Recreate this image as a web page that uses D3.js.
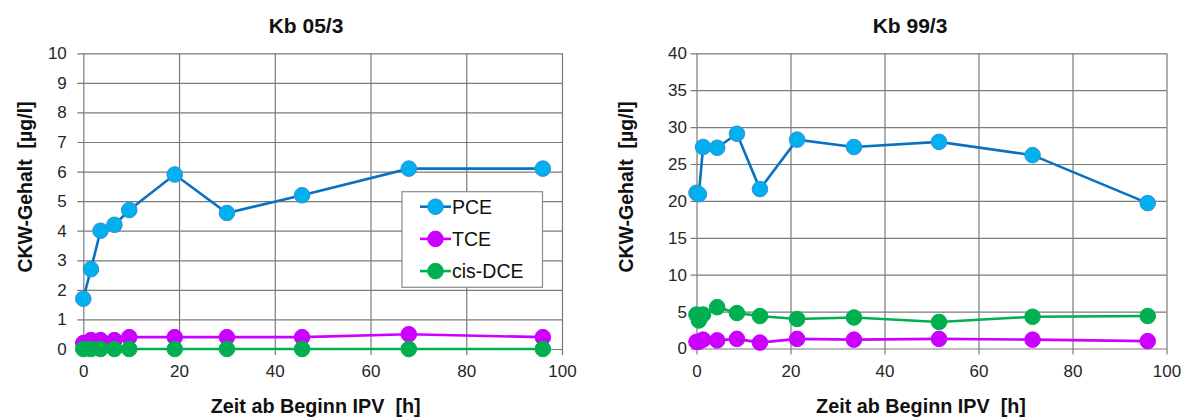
<!DOCTYPE html>
<html><head><meta charset="utf-8">
<script src="https://cdn.jsdelivr.net/npm/d3@7"></script>
<style>body{margin:0;background:#fff;} svg{display:block;font-family:"Liberation Sans",Arial,sans-serif;} svg text{white-space:pre;}</style>
</head><body><svg id="c" width="1190" height="417"></svg>
<script>
// ---- data ----
const seriesNames = ["PCE", "TCE", "cis-DCE"];
const leftTitle = "Kb 05/3";
const leftTime = [0, 1.6, 3.6, 6.5, 9.6, 19.1, 30, 45.7, 68, 96];
const leftPCE = [1.7, 2.7, 4.0, 4.2, 4.7, 5.9, 4.6, 5.2, 6.1, 6.1];
const leftTCE = [0.2, 0.3, 0.3, 0.3, 0.4, 0.4, 0.4, 0.4, 0.5, 0.4];
const leftDCE = [0, 0, 0, 0, 0, 0, 0, 0, 0, 0];
const leftYTicks = [0,1,2,3,4,5,6,7,8,9,10];

const rightTitle = "Kb 99/3";
const rightTime = [0, 0.5, 1.4, 4.4, 8.6, 13.5, 21.4, 33.5, 51.6, 71.5, 96];
const rightPCE = [21.1, 20.9, 27.3, 27.2, 29.1, 21.6, 28.3, 27.3, 28.0, 26.2, 19.7];
const rightTCE = [0.9, 0.9, 1.2, 1.1, 1.3, 0.8, 1.3, 1.2, 1.3, 1.2, 1.0];
const rightDCE = [4.6, 3.8, 4.6, 5.6, 4.8, 4.4, 4.0, 4.2, 3.6, 4.3, 4.4];
const rightYTicks = [0,5,10,15,20,25,30,35,40];

const xTicks = [0,20,40,60,80,100];
const yLabel = "CKW-Gehalt  [µg/l]";
const xLabel = "Zeit ab Beginn IPV  [h]";
const lineColors = ["#0a70c0", "#cc00ff", "#00b050"];
const fillColors = ["#00b0f0", "#cc00ff", "#00b050"];

const svg = d3.select("#c");

function panel(cfg) {
  const g = svg.append("g");
  const x = d3.scaleLinear().domain([0,100]).range([cfg.x0, cfg.x1]);
  const y = d3.scaleLinear().domain([0, cfg.ymax]).range([cfg.yb, cfg.yt]);
  const grid = "#7a7a7a";
  // horizontal grid + ticks
  g.append("g").attr("transform", `translate(${cfg.x0},0)`)
    .call(d3.axisLeft(y).tickValues(cfg.yTicks).tickSize(-(cfg.x1-cfg.x0)).tickSizeOuter(0))
    .call(a => a.select(".domain").remove())
    .call(a => a.selectAll("line").attr("stroke", grid).attr("stroke-width",1.2).attr("x1", -6))
    .call(a => a.selectAll("text").attr("font-size", 17).attr("fill", "#262626").attr("x", -cfg.ypad));
  // vertical grid + ticks
  g.append("g").attr("transform", `translate(0,${cfg.yb})`)
    .call(d3.axisBottom(x).tickValues(xTicks).tickSize(-(cfg.yb-cfg.yt)).tickSizeOuter(0))
    .call(a => a.select(".domain").remove())
    .call(a => a.selectAll("line").attr("stroke", grid).attr("stroke-width",1.2).attr("y1", 6))
    .call(a => a.selectAll("text").attr("font-size", 17).attr("fill", "#262626").attr("dy", null).attr("y", 28));
  // title
  g.append("text").attr("x", cfg.titleX).attr("y", 32.5).attr("text-anchor","middle")
    .attr("font-size", 21).attr("font-weight","bold").attr("fill","#111").text(cfg.title);
  g.append("text").attr("transform", `translate(${cfg.ylabX},${cfg.ylabY}) rotate(-90)`)
    .attr("text-anchor","middle").attr("font-size", 19.5).attr("font-weight","bold").attr("fill","#111").text(yLabel);
  g.append("text").attr("x", cfg.xlabX).attr("y", 413).attr("text-anchor","middle")
    .attr("font-size", 19.8).attr("font-weight","bold").attr("fill","#111").text(xLabel);

  const line = d3.line().x(d => x(d[0])).y(d => y(d[1]));
  cfg.series.forEach((vals, i) => {
    const pts = cfg.time.map((t, j) => [t, vals[j]]);
    g.append("path").datum(pts).attr("d", line).attr("fill","none")
      .attr("stroke", lineColors[i]).attr("stroke-width", 2.6);
    g.selectAll(null).data(pts).enter().append("circle")
      .attr("cx", d => x(d[0])).attr("cy", d => y(d[1])).attr("r", 7.8)
      .attr("fill", fillColors[i])
      .attr("stroke", i === 0 ? "#3a8fd0" : fillColors[i]).attr("stroke-width", 1);
  });
  if (cfg.legend) {
    const L = cfg.legend;
    g.append("rect").attr("x", L.x).attr("y", L.y).attr("width", L.w).attr("height", L.h)
      .attr("fill","#fff").attr("stroke","#8a8a8a").attr("stroke-width",1.2);
    seriesNames.forEach((n, i) => {
      const yy = L.y + 15 + i * 32.2;
      g.append("line").attr("x1", L.x+18).attr("x2", L.x+49).attr("y1", yy).attr("y2", yy)
        .attr("stroke", lineColors[i]).attr("stroke-width", 2.6);
      g.append("circle").attr("cx", L.x+33.5).attr("cy", yy).attr("r", 7.8)
        .attr("fill", fillColors[i]).attr("stroke", i === 0 ? "#3a8fd0" : fillColors[i]).attr("stroke-width",1);
      g.append("text").attr("x", L.x+50).attr("y", yy).attr("dy","0.36em")
        .attr("font-size", 19.5).attr("fill","#111").text(n);
    });
  }
}

panel({x0: 83.3, x1: 562, yt: 53.3, yb: 349, ymax: 10, yTicks: leftYTicks, ypad: 16.5,
  title: leftTitle, titleX: 306, ylabX: 32, ylabY: 187, xlabX: 315.7,
  time: leftTime, series: [leftPCE, leftTCE, leftDCE],
  legend: {x: 402, y: 191.7, w: 140.5, h: 95.6}});
panel({x0: 696.5, x1: 1166.5, yt: 53.3, yb: 348.5, ymax: 40, yTicks: rightYTicks, ypad: 9.5,
  title: rightTitle, titleX: 910, ylabX: 633, ylabY: 187, xlabX: 921,
  time: rightTime, series: [rightPCE, rightTCE, rightDCE]});
</script></body></html>
